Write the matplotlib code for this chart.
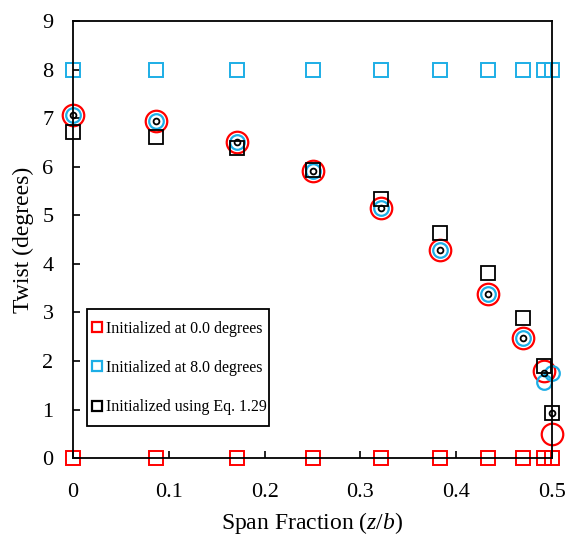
import matplotlib
matplotlib.use("Agg")
import matplotlib.pyplot as plt
from matplotlib.lines import Line2D
from matplotlib.patches import Rectangle

plt.rcParams['font.family'] = ['Liberation Serif', 'DejaVu Serif']
plt.rcParams['mathtext.fontset'] = 'custom'
plt.rcParams['mathtext.it'] = 'Liberation Serif:italic'
plt.rcParams['mathtext.rm'] = 'Liberation Serif'

# span stations (z/b)
span = [0.0, 0.087, 0.171, 0.250, 0.321, 0.383, 0.433, 0.470, 0.492, 0.500]

# initial guesses (squares)
init_zero = [0, 0, 0, 0, 0, 0, 0, 0, 0, 0]
init_eight = [8, 8, 8, 8, 8, 8, 8, 8, 8, 8]
init_eq = [6.73, 6.62, 6.40, 5.93, 5.35, 4.64, 3.82, 2.89, 1.90, 0.92]

# converged twist (circles)
conv_zero = [7.08, 6.94, 6.52, 5.92, 5.16, 4.29, 3.39, 2.48, 1.80, 0.49]
conv_eight = [7.08, 6.94, 6.52, 5.92, 5.16, 4.29, 3.39, 2.48, 1.56, 1.75]
conv_eq = [7.08, 6.94, 6.52, 5.92, 5.16, 4.29, 3.39, 2.48, 1.75, 0.92]

red = '#FF0000'
blue = '#1DAEE6'
black = '#000000'

fig = plt.figure(figsize=(5.69, 5.35), dpi=100)
ax = fig.add_axes([0.1283, 0.1439, 0.8419, 0.816])

ax.plot(span, conv_zero, 'o', ms=15.5, mfc='none', mec=red, mew=1.6, clip_on=False)
ax.plot(span, conv_eight, 'o', ms=10.5, mfc='none', mec=blue, mew=1.6, clip_on=False)
ax.plot(span, conv_eq, 'o', ms=4.2, mfc='none', mec=black, mew=1.3, clip_on=False)

ax.plot(span, init_zero, 's', ms=9.5, mfc='none', mec=red, mew=1.4, clip_on=False)
ax.plot(span, init_eight, 's', ms=9.5, mfc='none', mec=blue, mew=1.4, clip_on=False)
ax.plot(span, init_eq, 's', ms=9.5, mfc='none', mec=black, mew=1.3, clip_on=False)

ax.set_xlim(0, 0.5)
ax.set_ylim(0, 9)
ax.set_xticks([0, 0.1, 0.2, 0.3, 0.4, 0.5])
ax.set_xticklabels(['0', '0.1', '0.2', '0.3', '0.4', '0.5'])
ax.set_yticks(range(10))
ax.tick_params(direction='in', length=5, width=1.2, labelsize=16)
ax.tick_params(axis='x', pad=18)
ax.tick_params(axis='y', pad=14)
for s in ax.spines.values():
    s.set_linewidth(1.3)

ax.set_xlabel('Span Fraction ($z/b$)', fontsize=17, labelpad=6)
ax.set_ylabel('Twist (degrees)', fontsize=17, labelpad=6)

handles = [
    Line2D([], [], ls='none', marker='s', ms=6.5, mfc='none', mec=red, mew=1.6),
    Line2D([], [], ls='none', marker='s', ms=6.5, mfc='none', mec=blue, mew=1.6),
    Line2D([], [], ls='none', marker='s', ms=6.5, mfc='none', mec=black, mew=1.6),
]
labels = ['Initialized at 0.0 degrees', 'Initialized at 8.0 degrees',
          'Initialized using Eq. 1.29']
leg = ax.legend(handles, labels, loc='center left', bbox_to_anchor=(0.040, 0.206),
                fontsize=11.5, frameon=False,
                handlelength=0.6, handletextpad=0.25, labelspacing=1.45,
                borderpad=0, borderaxespad=0)
# legend frame drawn separately (tighter at the sides than top/bottom)
ax.add_patch(Rectangle((0.029, 0.073), 0.380, 0.268, transform=ax.transAxes,
                       fill=False, ec='black', lw=1.3, zorder=5))

fig.savefig('out.png', dpi=100)
